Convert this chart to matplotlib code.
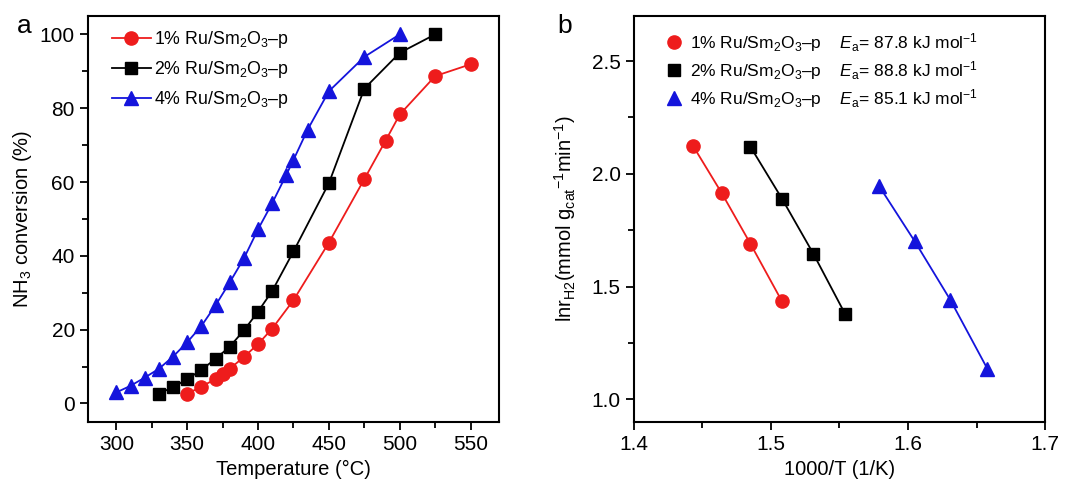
import matplotlib
matplotlib.use("Agg")
import matplotlib.pyplot as plt
from matplotlib.ticker import MultipleLocator

plt.rcParams['font.family'] = ['Liberation Sans', 'DejaVu Sans']
plt.rcParams['mathtext.fontset'] = 'custom'
plt.rcParams['mathtext.rm'] = 'Liberation Sans'
plt.rcParams['mathtext.it'] = 'Liberation Sans:italic'
plt.rcParams['mathtext.bf'] = 'Liberation Sans:bold'

# ---- Panel a data ----
temp_1 = [350, 360, 370, 375, 380, 390, 400, 410, 425, 450, 475, 490, 500, 525, 550]
conv_1 = [2.6, 4.6, 6.6, 7.9, 9.4, 12.6, 16.1, 20.3, 28.0, 43.6, 60.8, 71.2, 78.3, 88.7, 91.9]
temp_2 = [330, 340, 350, 360, 370, 380, 390, 400, 410, 425, 450, 475, 500, 525]
conv_2 = [2.7, 4.4, 6.6, 9.1, 12.1, 15.4, 19.8, 24.9, 30.5, 41.2, 59.7, 85.3, 95.0, 100.0]
temp_4 = [300, 310, 320, 330, 340, 350, 360, 370, 380, 390, 400, 410, 420, 425, 435, 450, 475, 500]
conv_4 = [3.0, 4.8, 7.0, 9.4, 12.7, 16.6, 21.0, 26.6, 32.8, 39.3, 47.2, 54.3, 62.0, 66.0, 74.2, 84.6, 93.9, 100.0]

# ---- Panel b data ----
invT_1 = [1.443, 1.464, 1.485, 1.508]
lnr_1 = [2.125, 1.915, 1.69, 1.435]
invT_2 = [1.485, 1.508, 1.531, 1.554]
lnr_2 = [2.12, 1.89, 1.645, 1.38]
invT_4 = [1.579, 1.605, 1.631, 1.658]
lnr_4 = [1.945, 1.70, 1.44, 1.135]

labels = ['1% Ru/Sm$_2$O$_3$\u2013p', '2% Ru/Sm$_2$O$_3$\u2013p', '4% Ru/Sm$_2$O$_3$\u2013p']
ea_vals = ['87.8', '88.8', '85.1']
colors = ['#ee1c1c', '#000000', '#1414dc']
markers = ['o', 's', '^']
msizes = [9.5, 8, 9.5]

fig = plt.figure(figsize=(10.8, 4.97), dpi=100)
axa = fig.add_axes([0.0815, 0.151, 0.3805, 0.817])
axb = fig.add_axes([0.587, 0.151, 0.3806, 0.817])

series_a = [(temp_1, conv_1), (temp_2, conv_2), (temp_4, conv_4)]
for (x, y), lab, c, m, ms in zip(series_a, labels, colors, markers, msizes):
    axa.plot(x, y, color=c, marker=m, markersize=ms, lw=1.3, label=lab)

axa.set_xlim(280, 570)
axa.set_ylim(-5, 105)
axa.xaxis.set_major_locator(MultipleLocator(50))
axa.xaxis.set_minor_locator(MultipleLocator(25))
axa.yaxis.set_major_locator(MultipleLocator(20))
axa.yaxis.set_minor_locator(MultipleLocator(10))
axa.set_xlabel('Temperature (°C)', fontsize=14.5)
axa.set_ylabel('NH$_3$ conversion (%)', fontsize=14.5)
axa.legend(loc='upper left', fontsize=12.8, frameon=False, handlelength=2.2,
           handletextpad=0.2, borderaxespad=0.35, labelspacing=0.5,
           bbox_to_anchor=(0.025, 1.0))

series_b = [(invT_1, lnr_1), (invT_2, lnr_2), (invT_4, lnr_4)]
for (x, y), c, m, ms in zip(series_b, colors, markers, msizes):
    axb.plot(x, y, color=c, marker=m, markersize=ms, lw=1.3)

handles = [axb.plot([], [], ls='none', color=c, marker=m, markersize=ms)[0]
           for c, m, ms in zip(colors, markers, msizes)]
blabels = [lab + '    $E_\\mathrm{a}$= ' + ea + ' kJ mol$^{-1}$' for lab, ea in zip(labels, ea_vals)]
axb.legend(handles, blabels, loc='upper left', fontsize=12.5, frameon=False,
           handletextpad=0.35, borderaxespad=0.45, labelspacing=0.3, handlelength=1.2,
           bbox_to_anchor=(0.035, 1.0))

axb.set_xlim(1.4, 1.7)
axb.set_ylim(0.9, 2.7)
axb.xaxis.set_major_locator(MultipleLocator(0.1))
axb.xaxis.set_minor_locator(MultipleLocator(0.05))
axb.yaxis.set_major_locator(MultipleLocator(0.5))
axb.yaxis.set_minor_locator(MultipleLocator(0.25))
axb.set_xlabel('1000/T (1/K)', fontsize=14.5)
axb.set_ylabel('lnr$_{\\mathrm{H2}}$(mmol g$_{\\mathrm{cat}}$$^{-1}$min$^{-1}$)', fontsize=14.5,
               labelpad=10)

for ax in (axa, axb):
    for s in ax.spines.values():
        s.set_linewidth(1.5)
    ax.tick_params(which='both', direction='out', top=False, right=False, labelsize=15, width=1.3)
    ax.tick_params(which='major', length=6)
    ax.tick_params(which='minor', length=4)

fig.text(0.016, 0.934, 'a', fontsize=19)
fig.text(0.516, 0.934, 'b', fontsize=19)

fig.savefig('out.png', dpi=100)
